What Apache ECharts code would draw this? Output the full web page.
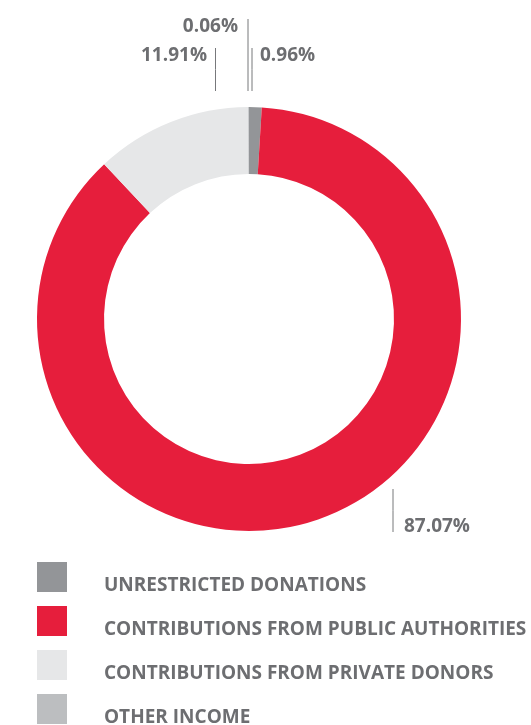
<!DOCTYPE html>
<html>
<head>
<meta charset="utf-8">
<style>
html,body{margin:0;padding:0;background:#fff;}
#c{width:531px;height:725px;}
</style>
<script src="https://cdn.jsdelivr.net/npm/echarts@6/dist/echarts.min.js"></script>
</head>
<body>
<div id="c"></div>
<script>
const categories = ['UNRESTRICTED DONATIONS','CONTRIBUTIONS FROM PUBLIC AUTHORITIES','CONTRIBUTIONS FROM PRIVATE DONORS','OTHER INCOME'];
const values = [0.96, 87.07, 11.91, 0.06];
const colors = ['#939598','#e61e3c','#e6e7e8','#bcbec0'];

const CX = 249, CY = 319;
// label placement (text anchor, alignment, vertical leader line x / y range)
const labelPos = [
  {tx:260, ty:56, align:'left',  lx:252,   y1:91,  y2:48},
  {tx:404, ty:527, align:'left', lx:393,   y1:489, y2:532},
  {tx:207, ty:56, align:'right', lx:215.5, y1:91,  y2:48},
  {tx:238, ty:27, align:'right', lx:248,   y1:91,  y2:19}
];

const chart = echarts.init(document.getElementById('c'));
chart.setOption({
  animation:false,
  legend:{
    orient:'vertical', left:37, top:559, height:190, padding:0,
    itemWidth:30, itemHeight:30, itemGap:8,
    icon:'rect', selectedMode:false,
    data:categories,
    formatter:n=>'\n'+n,
    textStyle:{color:'#6d6e71', fontFamily:'Open Sans', fontWeight:'bold', fontSize:19, lineHeight:17, padding:[0,0,0,32]}
  },
  series:[{
    type:'pie',
    center:[CX, CY],
    radius:[145, 212],
    startAngle:90,
    clockwise:true,
    avoidLabelOverlap:false,
    silent:true,
    itemStyle:{borderWidth:0},
    label:{
      show:true,
      formatter:p=>values[p.dataIndex].toFixed(2)+'%',
      color:'#6d6e71', fontFamily:'Open Sans', fontWeight:'bold', fontSize:19
    },
    labelLine:{show:true, lineStyle:{color:'#77787b', width:1}},
    labelLayout:function(params){
      const L = labelPos[params.dataIndex];
      const ym = (L.y1+L.y2)/2;
      return {
        x:L.tx, y:L.ty, align:L.align, verticalAlign:'middle',
        labelLinePoints:[[L.lx,L.y1],[L.lx,ym],[L.lx,L.y2]]
      };
    },
    data:categories.map((n,i)=>({name:n, value:values[i], itemStyle:{color:colors[i]}}))
  }]
});
</script>
</body>
</html>
